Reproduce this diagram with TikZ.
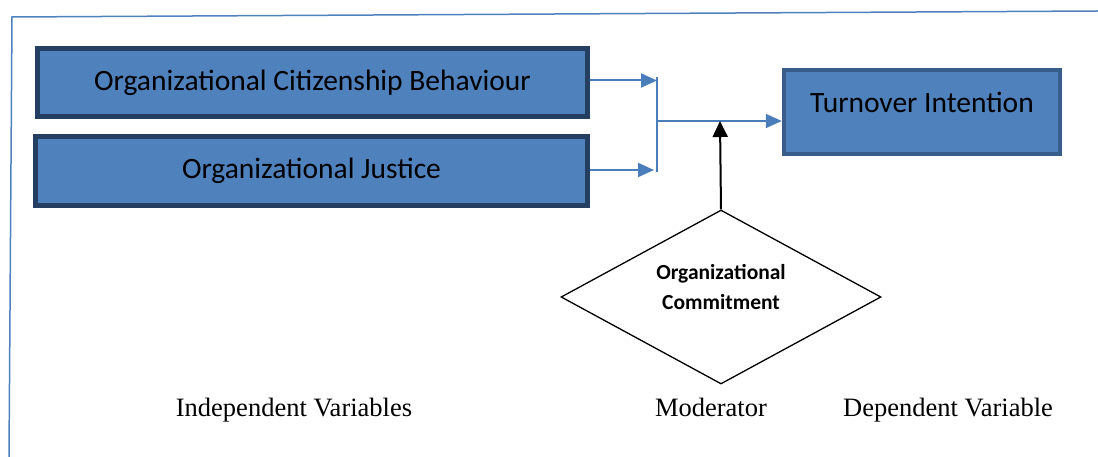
\documentclass[tikz,border=0pt]{standalone}
\usepackage{fontspec}
\setmainfont{Liberation Serif}
\setsansfont{Carlito}
\usetikzlibrary{shapes.geometric,arrows.meta}
\definecolor{boxfill}{HTML}{4F81BD}
\definecolor{boxedge}{HTML}{253F62}
\definecolor{tiedge}{HTML}{385D8A}
\definecolor{linkblue}{HTML}{4A7EBB}
\tikzset{
  varbox/.style={draw=boxedge,fill=boxfill,line width=5pt,inner sep=0pt,
    font=\sffamily\fontsize{29.5}{34}\selectfont},
  link/.style={draw=linkblue,line width=2pt,-{Triangle[length=16pt,width=14pt]}},
  modlink/.style={draw=black,line width=2pt,-{Triangle[length=16pt,width=15pt]}},
  caption/.style={anchor=base,font=\fontsize{26.5}{30}\selectfont}
}
\begin{document}
\begin{tikzpicture}[x=1pt,y=-1pt]
\useasboundingbox (0,0) rectangle (1098,457);
% frame
\draw[boxfill,line width=1.5pt] (9,457) -- (12,17) -- (1098,11);
% variables
\node[varbox,minimum width=550pt,minimum height=68pt] (ocb) at (312.5,82.5)
  {Organizational Citizenship Behaviour};
\node[varbox,minimum width=552pt,minimum height=69pt] (oj) at (311.5,171)
  {Organizational Justice};
\node[varbox,draw=tiedge,line width=4.5pt,minimum width=276pt,minimum height=84pt,
  text depth=19pt] (ti) at (922,112) {Turnover Intention};
\node[diamond,draw,line width=1.3pt,minimum width=320pt,minimum height=174pt,
  aspect=1.84,inner sep=0pt,align=center,text depth=21pt,
  font=\sffamily\bfseries\fontsize{21.5}{30}\selectfont]
  (oc) at (721,297) {Organizational\\Commitment};
% joining bar
\coordinate (jtop) at (657,77);
\coordinate (jbot) at (657,172);
\coordinate (jmid) at (657,121);
\coordinate (meet) at (720,121);
\draw[link] (ocb.east |- 0,80.5) -- (jtop |- 0,80.5);
\draw[link] (oj.east |- 0,170) -- (654,170);
\draw[linkblue,line width=2pt] (jtop) -- (jbot);
\draw[link] (jmid) -- (jmid -| ti.west);
\draw[modlink] (oc.north) -- (meet);
% captions
\node[caption] (iv) at (294,416) {Independent Variables};
\node[caption] (mo) at (711,416) {Moderator};
\node[caption] (dv) at (948,416) {Dependent Variable};
\end{tikzpicture}
\end{document}
